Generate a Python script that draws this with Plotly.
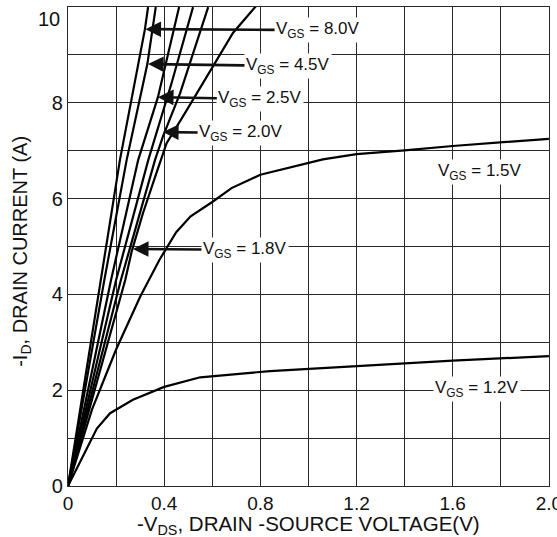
import plotly.graph_objects as go

# -V_DS (V) and -I_D (A), one pair of lists per V_GS curve
vgs_labels = ["8.0V", "4.5V", "", "2.5V", "2.0V", "1.8V", "1.5V", "1.2V"]

vds_80 = [0, 0.137, 0.216, 0.32, 0.333]
id_80 = [0, 4.3, 6.81, 9.54, 10.0]

vds_45 = [0, 0.151, 0.244, 0.33, 0.365]
id_45 = [0, 4.3, 6.81, 8.81, 10.0]

vds_x = [0, 0.2, 0.334, 0.43, 0.52]
id_x = [0, 4.3, 6.81, 8.4, 10.0]

vds_25 = [0, 0.179, 0.292, 0.374, 0.462]
id_25 = [0, 4.3, 6.81, 8.12, 10.0]

vds_20 = [0, 0.22, 0.362, 0.395, 0.466, 0.535, 0.583]
id_20 = [0, 4.3, 6.81, 7.3, 8.2, 9.24, 10.0]

vds_18 = [0, 0.238, 0.265, 0.312, 0.362, 0.41, 0.494, 0.603, 0.686, 0.785]
id_18 = [0, 4.3, 4.9, 5.70, 6.45, 7.16, 7.85, 8.75, 9.46, 10.04]

vds_15 = [0, 0.1, 0.2, 0.3, 0.38, 0.45, 0.51, 0.6, 0.68, 0.8, 1.06, 1.2, 1.4, 1.6, 2.0]
id_15 = [0, 1.6, 2.85, 3.95, 4.72, 5.3, 5.63, 5.93, 6.22, 6.5, 6.82, 6.93, 7.01, 7.1, 7.25]

vds_12 = [0, 0.12, 0.175, 0.27, 0.4, 0.55, 0.84, 1.2, 1.6, 2.0]
id_12 = [0, 1.2, 1.52, 1.8, 2.07, 2.27, 2.40, 2.51, 2.62, 2.71]

x_ticks = [0, 0.4, 0.8, 1.2, 1.6, 2.0]
x_ticktext = ["0", "0.4", "0.8", "1.2", "1.6", "2.0"]
y_ticks = [0, 2, 4, 6, 8, 10]
y_ticktext = ["0", "2", "4", "6", "8", "10"]

curves = [(vds_80, id_80), (vds_45, id_45), (vds_x, id_x), (vds_25, id_25),
          (vds_20, id_20), (vds_18, id_18), (vds_15, id_15), (vds_12, id_12)]

# label text anchor (x, y) and arrow tip (x, y) or None
label_pos = {
    "8.0V": ((1.04, 9.52), (0.322, 9.54)),
    "4.5V": ((0.915, 8.77), (0.333, 8.81)),
    "2.5V": ((0.80, 8.08), (0.374, 8.12)),
    "2.0V": ((0.72, 7.37), (0.395, 7.39)),
    "1.8V": ((0.736, 4.93), (0.27, 4.95)),
    "1.5V": ((1.713, 6.56), None),
    "1.2V": ((1.70, 2.03), None),
}

FONT = "Liberation Sans, Arial, sans-serif"
fig = go.Figure()
for (xs, ys), lab in zip(curves, vgs_labels):
    fig.add_trace(go.Scatter(x=xs, y=ys, mode="lines",
                             line=dict(color="black", width=2.2),
                             name=lab or "V_GS", showlegend=False,
                             hoverinfo="skip"))

for lab, (pos, tip) in label_pos.items():
    txt = "V<sub>GS</sub> = " + lab
    if tip is None:
        fig.add_annotation(x=pos[0], y=pos[1], xref="x", yref="y", text=txt,
                           showarrow=False, bgcolor="white",
                           font=dict(family=FONT, size=17, color="#111"))
    else:
        fig.add_annotation(x=tip[0], y=tip[1], xref="x", yref="y",
                           ax=pos[0], ay=pos[1], axref="x", ayref="y",
                           text=txt, showarrow=True, arrowhead=2, arrowsize=1.2,
                           arrowwidth=2.6, arrowcolor="#111", bgcolor="white",
                           font=dict(family=FONT, size=17, color="#111"))

# top y tick label sits just below the frame edge, as in the reference
fig.add_annotation(x=0, y=y_ticks[-1], xref="paper", yref="y", text=y_ticktext[-1],
                   showarrow=False, xanchor="right", yanchor="top", xshift=-6, yshift=1,
                   font=dict(family=FONT, size=20, color="#111"))

# axis titles
fig.add_annotation(x=0.499, y=-0.05, xref="paper", yref="paper",
                   text="-V<sub>DS</sub>, DRAIN -SOURCE VOLTAGE(V)", showarrow=False,
                   xanchor="center", yanchor="top",
                   font=dict(family=FONT, size=20.5, color="#111"))
fig.add_annotation(x=-0.0956, y=0.489, xref="paper", yref="paper",
                   text="-I<sub>D</sub>, DRAIN CURRENT (A)", showarrow=False,
                   textangle=-90, xanchor="center", yanchor="middle",
                   font=dict(family=FONT, size=20, color="#111"))

grid_col = "#2a2a2a"
fig.update_xaxes(range=[0, 2.0004], showgrid=True, gridcolor=grid_col, gridwidth=1,
                 minor=dict(dtick=0.2, tick0=0, showgrid=True, gridcolor=grid_col, gridwidth=1),
                 showline=True, mirror=True, linecolor=grid_col, linewidth=1.2,
                 zeroline=False, ticks="", automargin=False, ticklabeloverflow="allow",
                 tickmode="array", tickvals=x_ticks, ticktext=x_ticktext,
                 tickfont=dict(family=FONT, size=19, color="#111"))
fig.update_yaxes(range=[0, 10.002], showgrid=True, gridcolor=grid_col, gridwidth=1,
                 minor=dict(dtick=1, tick0=0, showgrid=True, gridcolor=grid_col, gridwidth=1),
                 showline=True, mirror=True, linecolor=grid_col, linewidth=1.2,
                 zeroline=False, ticks="", automargin=False,
                 tickmode="array", tickvals=y_ticks[:-1], ticktext=y_ticktext[:-1],
                 tickfont=dict(family=FONT, size=20, color="#111"))

fig.update_layout(width=557, height=537,
                  margin=dict(l=68, r=8, t=7, b=51, autoexpand=False),
                  paper_bgcolor="white", plot_bgcolor="white",
                  font=dict(family=FONT, color="#111"))

fig.write_html("out.html", config={"displayModeBar": False},
               post_script="document.body.style.margin='0';document.body.style.overflow='hidden';")
